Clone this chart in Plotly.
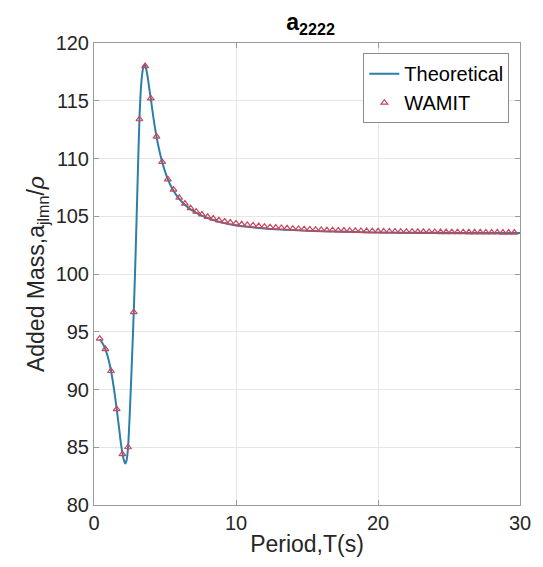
import plotly.graph_objects as go

# Theoretical curve
theo_T = [0.4, 0.6, 0.8, 1.0, 1.2, 1.4, 1.6, 1.8, 1.9, 2.0, 2.1, 2.2, 2.3, 2.4, 2.5, 2.6, 2.7,
          2.8, 2.9, 3.0, 3.1, 3.2, 3.3, 3.4, 3.5, 3.6, 3.7, 3.8, 3.9, 4.0, 4.2, 4.4, 4.6, 4.8,
          5.0, 5.2, 5.6, 6.0, 6.4, 6.8, 7.2, 7.6, 8.0, 9.0, 10, 12, 14, 16, 18, 20, 24, 28, 30]
theo_A = [94.35, 94.0, 93.5, 92.7, 91.6, 90.1, 88.3, 86.3, 85.3, 84.5, 83.9, 83.6, 83.9, 85.0,
          87.4, 90.3, 93.4, 96.7, 100.5, 104.8, 109.3, 113.4, 116.0, 117.4, 118.0, 118.1,
          117.6, 116.9, 116.0, 115.2, 113.4, 111.9, 110.7, 109.7, 108.9, 108.2, 107.2, 106.5,
          106.0, 105.6, 105.3, 105.05, 104.85, 104.45, 104.2, 103.95, 103.8, 103.7, 103.65,
          103.6, 103.57, 103.55, 103.54]

# WAMIT points
wamit_T = [round(0.4 * k, 1) for k in range(1, 75)]
wamit_A = [94.4, 93.5, 91.6, 88.3, 84.4, 85.0, 96.7, 113.4, 118.0, 115.2, 111.9, 109.7, 108.2,
           107.3, 106.6, 106.1, 105.7, 105.4, 105.15, 104.95, 104.8, 104.65, 104.55, 104.45,
           104.38, 104.3, 104.25, 104.2, 104.15, 104.1, 104.06, 104.02, 103.99, 103.96, 103.93,
           103.9, 103.88, 103.86, 103.84, 103.82, 103.8, 103.79, 103.77, 103.76, 103.75, 103.74,
           103.73, 103.72, 103.71, 103.7, 103.69, 103.68, 103.68, 103.67, 103.66, 103.66,
           103.65, 103.65, 103.64, 103.64, 103.63, 103.63, 103.62, 103.62, 103.62, 103.61,
           103.61, 103.61, 103.6, 103.6, 103.6, 103.59, 103.59, 103.59]

x_ticks = [0, 10, 20, 30]
y_ticks = [80, 85, 90, 95, 100, 105, 110, 115, 120]

FONT = "Liberation Sans, Arial, sans-serif"
TXT = "#262626"

fig = go.Figure()
fig.add_trace(go.Scatter(x=theo_T, y=theo_A, mode="lines", name="Theoretical",
                         line=dict(color="#2c7fa8", width=2, shape="spline", smoothing=0.6)))
fig.add_trace(go.Scatter(x=wamit_T, y=wamit_A, mode="markers", name="WAMIT",
                         marker=dict(symbol="triangle-up-open", size=6,
                                     color="#c8475a", line=dict(width=1.2))))

axis_common = dict(showline=True, linecolor="#9a9a9a", linewidth=1, mirror="ticks",
                   ticks="inside", ticklen=5, tickcolor="#9a9a9a",
                   showgrid=True, gridcolor="#e6e6e6", gridwidth=1, zeroline=False,
                   tickfont=dict(family=FONT, size=20, color=TXT))

fig.update_layout(
    width=543, height=567,
    margin=dict(l=94, r=17, t=43, b=62),
    paper_bgcolor="white", plot_bgcolor="white",
    title=dict(text="<b>a<sub>2222</sub></b>", x=0.572, xanchor="center", y=0.975,
               yanchor="top", font=dict(family=FONT, size=23, color="black")),
    xaxis=dict(range=[0, 30], tickvals=x_ticks,
               title=dict(text="Period,T(s)", font=dict(family=FONT, size=23, color=TXT),
                          standoff=2),
               **axis_common),
    yaxis=dict(range=[80, 120], tickvals=y_ticks,
               title=dict(text="Added Mass,a<sub>jlmn</sub>/<i>ρ</i>",
                          font=dict(family=FONT, size=23, color=TXT), standoff=4),
               **axis_common),
    legend=dict(x=0.975, y=0.978, xanchor="right", yanchor="top",
                bgcolor="white", bordercolor="#8a8a8a", borderwidth=1,
                font=dict(family=FONT, size=20, color="black"),
                tracegroupgap=0, itemwidth=30),
    showlegend=True,
)

fig.write_html("out.html")
